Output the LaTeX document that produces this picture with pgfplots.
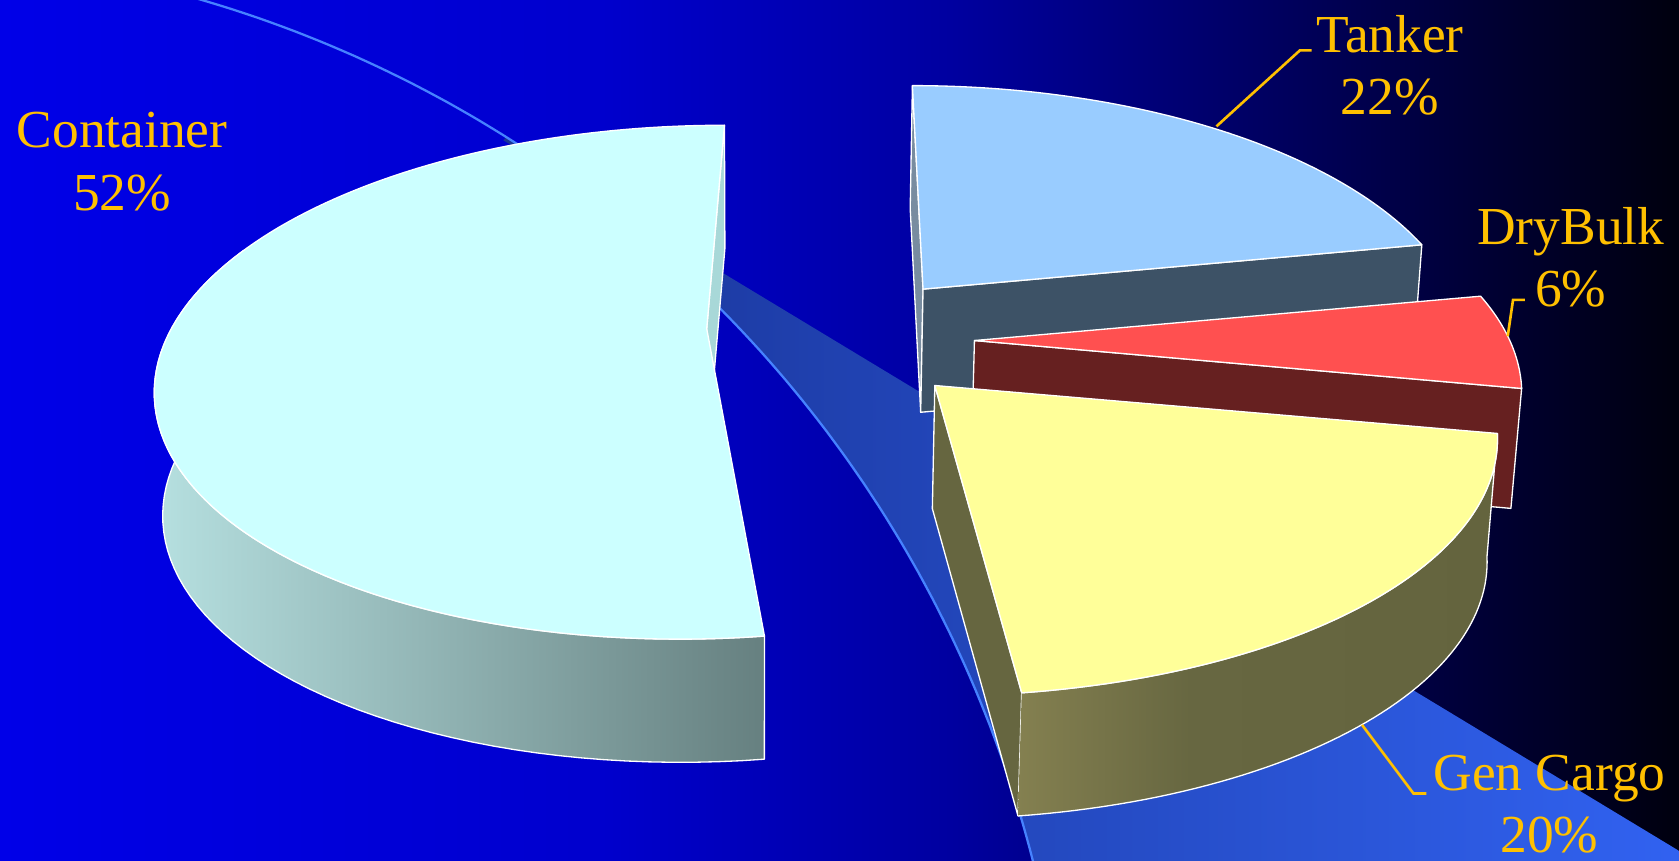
\documentclass[border=0pt]{standalone}
\usepackage{fontspec}
\setmainfont{Liberation Serif}
\usepackage{pgfplots}
\pgfplotsset{compat=1.18}

\definecolor{bg0}{RGB}{0,0,232}
\definecolor{bg1}{RGB}{0,0,205}
\definecolor{bg2}{RGB}{0,0,160}
\definecolor{bg3}{RGB}{0,0,90}
\definecolor{bg4}{RGB}{0,0,50}
\definecolor{bg5}{RGB}{0,0,14}
\pgfdeclarehorizontalshading{bgshade}{100bp}{color(0bp)=(bg0); color(25bp)=(bg0); color(42.9bp)=(bg1); color(53.3bp)=(bg2); color(63.7bp)=(bg3); color(69.5bp)=(bg4); color(75bp)=(bg5); color(100bp)=(bg5)}

\definecolor{gold}{RGB}{255,192,0}
\definecolor{bandL}{RGB}{25,52,150}
\definecolor{bandR}{RGB}{50,100,245}
\definecolor{arcline}{RGB}{70,130,255}
\definecolor{cTop}{RGB}{204,255,255}
\definecolor{cSideL}{RGB}{182,224,224}
\definecolor{cSideR}{RGB}{102,128,128}
\definecolor{cCut}{RGB}{168,216,216}
\definecolor{tTop}{RGB}{153,204,255}
\definecolor{tCut}{RGB}{61,82,102}
\definecolor{tLeft}{RGB}{120,140,160}
\definecolor{dTop}{RGB}{255,80,80}
\definecolor{dCut}{RGB}{102,32,32}
\definecolor{gTop}{RGB}{255,255,153}
\definecolor{gSideL}{RGB}{132,128,80}
\definecolor{gSideM}{RGB}{103,103,65}
\definecolor{gSideR}{RGB}{100,100,62}
\definecolor{gCut}{RGB}{102,102,64}
\pgfdeclarehorizontalshading{gshade}{100bp}{color(0bp)=(gSideL); color(25bp)=(gSideL); color(43bp)=(gSideM); color(75bp)=(gSideR); color(100bp)=(gSideR)}

% perspective projection of a point on the rim of a slice: cx, sR, h, t
\newcommand\PX[4]{(#1+(#2*cos(#4)+#3*sin(#4))/(1+0.208*sin(#4)))}
% cy, t
\newcommand\PY[2]{(#1-229.6*sin(#2)/(1+0.208*sin(#2)))}
% lean of vertical edges towards the vanishing point: x, weight
\newcommand\LX[2]{((#1)-0.014*(#2)*((#1)-706))}
% rim parameter: top arc t1->t2 for x in [0,1], bottom arc t2->t1 for x in [1+1/60,2]
\newcommand\TT[2]{((#1)+((#2)-(#1))*min(x,1)-((#2)-(#1))*max(x-1-1/60,0)*60/59)}
\newcommand\OFF{min(max((x-1)*60,0),1)}
\newcommand\proj[7]{%
  \pgfmathsetmacro#1{#3+(#5*cos(#7)+#6*sin(#7))/(1+0.208*sin(#7))}%
  \pgfmathsetmacro#2{#4-229.6*sin(#7)/(1+0.208*sin(#7))}}

\begin{document}
\begin{tikzpicture}
% shares in percent
\def\vC{52}\def\vT{22}\def\vD{6}\def\vG{20}
\pgfmathsetmacro\aA{90}
\pgfmathsetmacro\aB{\aA-3.6*\vT}
\pgfmathsetmacro\aC{\aB-3.6*\vD}
\pgfmathsetmacro\aE{\aC-3.6*\vG}
\pgfmathsetmacro\aF{\aE-3.6*\vC}
\proj{\cPx}{\cPy}{660}{307}{500}{20}{\aF}
\proj{\tPx}{\tPy}{862}{270}{495}{-12}{\aA}
\proj{\tQx}{\tQy}{862}{270}{495}{-12}{\aB}
\proj{\dQx}{\dQy}{910}{318}{500}{0}{\aC}
\proj{\gQx}{\gQy}{873}{360}{514}{0}{\aE}
\pgfmathsetmacro\cPb{\cPy+115}\pgfmathsetmacro\cPbx{\cPx-0.014*(\cPx-706)}
\pgfmathsetmacro\tPb{\tPy+115}\pgfmathsetmacro\tPbx{\tPx-0.014*(\tPx-706)}
\pgfmathsetmacro\tQb{\tQy+115}\pgfmathsetmacro\tQbx{\tQx-0.014*(\tQx-706)}
\pgfmathsetmacro\dQb{\dQy+112}\pgfmathsetmacro\dQbx{\dQx-0.014*(\dQx-706)}
\pgfmathsetmacro\gQb{\gQy+115}\pgfmathsetmacro\gQbx{\gQx-0.014*(\gQx-706)}
\begin{axis}[width=15.68cm,height=8.04cm,scale only axis,
  xmin=0,xmax=1568,ymin=0,ymax=804,y dir=reverse,hide axis,
  edge/.style={draw=white,line width=0.35pt,line join=round}]
% background
\addplot[draw=none,shading=bgshade] coordinates {(0,0) (1568,0) (1568,804) (0,804)} -- cycle;
% swoosh band
\addplot[draw=none,left color=bandL,right color=bandR,domain=57.8:13,samples=80]
  ({-127.6+1127*cos(x)},{1081.7-1127*sin(x)}) -- (1620,826) -- (470,131) -- cycle;
\addplot[draw=arcline,line width=0.6pt,domain=74:13,samples=100]
  ({-127.6+1127*cos(x)},{1081.7-1127*sin(x)});
% Container
\addplot[fill=cCut,edge] coordinates {(660,307) (\cPx,\cPy) (\cPbx,\cPb) (660.6,422)} -- cycle;
\addplot[left color=cSideL,right color=cSideR,edge,domain=0:2,samples=121]
  ({\LX{\PX{660}{500}{20}{\TT{-200}{\aE}}}{\OFF}},{\PY{307}{\TT{-200}{\aE}}+115*\OFF});
\addplot[fill=cTop,edge,domain=\aF:\aE,samples=120]
  ({\PX{660}{500}{20}{x}},{\PY{307}{x}}) -- (660,307) -- cycle;
% Tanker
\addplot[fill=tLeft,edge] coordinates {(862,270) (\tPx,\tPy) (\tPbx,\tPb) (859.8,385)} -- cycle;
\addplot[fill=tCut,edge] coordinates {(862,270) (\tQx,\tQy) (\tQbx,\tQb) (859.8,385)} -- cycle;
\addplot[fill=tTop,edge,domain=\aB:\aA,samples=60]
  ({\PX{862}{495}{-12}{x}},{\PY{270}{x}}) -- (862,270) -- cycle;
% DryBulk
\addplot[fill=dCut,edge] coordinates {(910,318) (\dQx,\dQy) (\dQbx,\dQb) (907.1,430)} -- cycle;
\addplot[fill=dTop,edge,domain=\aC:\aB,samples=40]
  ({\PX{910}{500}{0}{x}},{\PY{318}{x}}) -- (910,318) -- cycle;
% Gen Cargo
\addplot[fill=gCut,edge] coordinates {(873,360) (\gQx,\gQy) (\gQbx,\gQb) (870.7,475)} -- cycle;
\addplot[shading=gshade,edge,domain=0:2,samples=121]
  ({\LX{\PX{873}{514}{0}{\TT{\aE}{\aC}}}{\OFF}},{\PY{360}{\TT{\aE}{\aC}}+115*\OFF});
\addplot[fill=gTop,edge,domain=\aE:\aC,samples=80]
  ({\PX{873}{514}{0}{x}},{\PY{360}{x}}) -- (873,360) -- cycle;
% leader lines
\addplot[gold,line width=0.7pt] coordinates {(1136,118) (1214,47) (1225,47)};
\addplot[gold,line width=0.7pt] coordinates {(1408,314) (1413,280) (1424,280)};
\addplot[gold,line width=0.7pt] coordinates {(1272,677) (1320,741) (1332,741)};
% labels
\node[text=gold,font=\fontsize{14.2}{16.5}\selectfont,align=center] at (114,151) {Container\\52\%};
\node[text=gold,font=\fontsize{14.2}{16.5}\selectfont,align=center] at (1298,61) {Tanker\\22\%};
\node[text=gold,font=\fontsize{14.2}{16.5}\selectfont,align=center] at (1467,240) {DryBulk\\6\%};
\node[text=gold,font=\fontsize{14.2}{16.5}\selectfont,align=center] at (1447,751) {Gen Cargo\\20\%};
\end{axis}
\pgfresetboundingbox
\path (current axis.south west) rectangle (current axis.north east);
\end{tikzpicture}
\end{document}
